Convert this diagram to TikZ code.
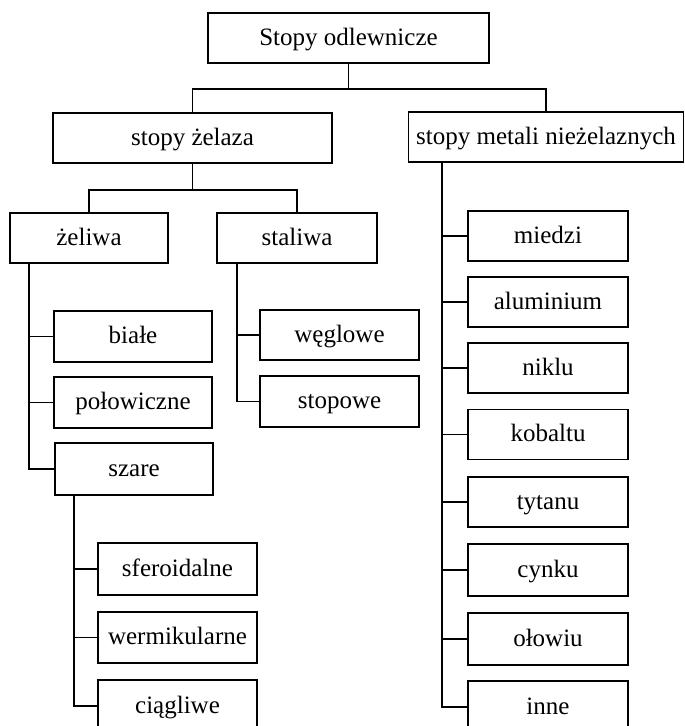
\documentclass[tikz,border=0pt]{standalone}
\usepackage{fontspec}
\setmainfont{Liberation Serif}
\usetikzlibrary{calc}
\begin{document}
\begin{tikzpicture}[x=1pt,y=-1pt,
  box/.style={draw=black,line width=1.6pt,rectangle,inner sep=0pt,minimum height=50pt,
    text height=18pt,text depth=4pt,
    font=\fontsize{25}{28}\selectfont,text=black},
  lw/.style={minimum width=#1},
  conn/.style={draw=black,line width=1.6pt}]
\useasboundingbox (0,0) rectangle (685,726);
\clip (0,0) rectangle (685,726);
\fill[white] (0,0) rectangle (685,726);
% level 0-1
\node[box,lw=281pt] (top) at (348.5,38) {Stopy odlewnicze};
\node[box,lw=279pt] (ze) at (192.5,138) {stopy żelaza};
\node[box,lw=275pt] (nz) at (546,137) {stopy metali nieżelaznych};
% level 2
\node[box,lw=158pt] (zel) at (89,238) {żeliwa};
\node[box,lw=160pt] (sta) at (297,238) {staliwa};
% żeliwa children
\node[box,lw=158pt,minimum height=51pt] (biale) at (133,336.5) {białe};
\node[box,lw=158pt,minimum height=51pt] (polo) at (133,402.5) {połowiczne};
\node[box,lw=158pt,minimum height=52pt] (szare) at (134,469) {szare};
% szare children
\node[box,lw=159pt,minimum height=52pt] (sfer) at (177.5,569) {sferoidalne};
\node[box,lw=159pt,minimum height=51pt] (werm) at (177.5,637.5) {wermikularne};
\node[box,lw=159pt,minimum height=52pt] (ciag) at (177.5,706) {ciągliwe};
% staliwa children
\node[box,lw=159pt] (wegl) at (339.5,335) {węglowe};
\node[box,lw=159pt,minimum height=51pt] (stop) at (339.5,401.5) {stopowe};
% nonferrous children
\node[box,lw=160pt] (mied) at (548,236) {miedzi};
\node[box,lw=160pt] (alu) at (548,302) {aluminium};
\node[box,lw=160pt] (nikl) at (548,368) {niklu};
\node[box,lw=160pt] (kob) at (548,434.5) {kobaltu};
\node[box,lw=160pt] (tyt) at (548,502) {tytanu};
\node[box,lw=160pt,minimum height=52pt] (cyn) at (548,570) {cynku};
\node[box,lw=160pt,minimum height=52pt] (olo) at (548,639) {ołowiu};
\node[box,lw=160pt,minimum height=52pt] (inne) at (548,707) {inne};
% connectors
\coordinate (j0) at ($(top.south)+(0,25)$);
\draw[conn] (top.south) -- (j0) -| (ze.north);
\draw[conn] (j0) -| (nz.north);
\coordinate (j1) at ($(ze.south)+(0,26)$);
\draw[conn] (ze.south) -- (j1) -| (zel.north);
\draw[conn] (j1) -| (sta.north);
\coordinate (t1) at ($(zel.south west)+(20,0)$);
\draw[conn] (t1) |- (biale.west);
\draw[conn] (t1) |- (polo.west);
\draw[conn] (t1) |- (szare.west);
\coordinate (t2) at ($(szare.south west)+(20,0)$);
\draw[conn] (t2) |- (sfer.west);
\draw[conn] (t2) |- (werm.west);
\draw[conn] (t2) |- (ciag.west);
\coordinate (t3) at ($(sta.south west)+(21,0)$);
\draw[conn] (t3) |- (wegl.west);
\draw[conn] (t3) |- (stop.west);
\coordinate (t4) at ($(nz.south west)+(34,0)$);
\foreach \n in {mied,alu,nikl,kob,tyt,cyn,olo,inne}{
  \draw[conn] (t4) |- (\n.west);
}
\end{tikzpicture}
\end{document}
